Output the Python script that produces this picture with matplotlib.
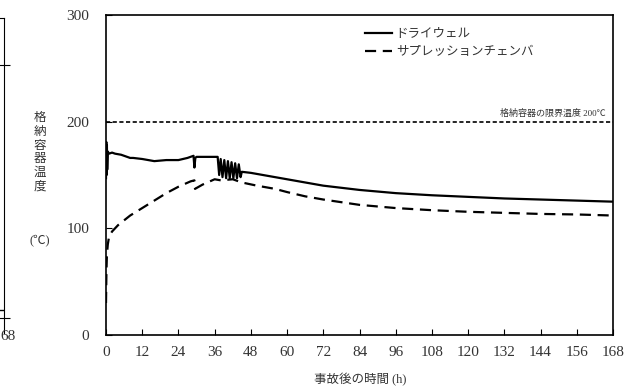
import numpy as np
import matplotlib
matplotlib.use('Agg')
import matplotlib.pyplot as plt

plt.rcParams['font.family'] = ['Liberation Serif', 'Noto Sans CJK JP']

# ドライウェル温度 (時間[h], 温度[℃])
t_dw = [0, 0.1, 0.2, 0.3, 0.4, 0.6, 1, 2, 3, 5, 7, 8, 9, 12, 16, 20, 24, 27, 29,
        29.3, 29.6, 30, 33, 37, 37.5, 38, 38.6, 39.2, 39.8, 40.4, 41, 41.6, 42.2,
        42.8, 43.4, 44, 44.6, 45, 48, 52, 56, 60, 64, 68, 72, 84, 96, 108, 120,
        132, 144, 156, 168]
T_dw = [147, 181, 150, 178, 155, 172, 170, 171, 170, 169, 167, 166, 166, 165, 163,
        164, 164, 166, 168, 157, 166, 167, 167, 167, 150, 165, 148, 164, 147, 163,
        147, 162, 147, 161, 147, 160, 148, 153, 152, 150, 148, 146, 144, 142, 140,
        136, 133, 131, 129.5, 128, 127, 126, 125]

# サプレッションチェンバ温度
t_sc = [0, 0.15, 0.3, 0.6, 1, 2, 4, 8, 12, 16, 20, 24, 28, 29.3, 29.5, 32, 36, 38,
        42, 45, 50, 56, 60, 66, 72, 84, 96, 108, 120, 132, 144, 156, 168]
T_sc = [30, 60, 75, 85, 92, 97, 103, 112, 119, 126, 133, 139, 144, 145, 137, 141,
        146, 145, 146, 143, 140, 137, 134, 130, 127, 122, 119, 117, 115.5, 114.5,
        113.5, 113, 112]

limit_T = 200
xticks = list(range(0, 169, 12))
yticks = [0, 100, 200, 300]

fig = plt.figure(figsize=(6.3, 3.87), dpi=100)

# 左隣の図の切れ端
ax0 = fig.add_axes([-0.6, 1 - 333 / 387, 0.6 + 4 / 630, (333 - 18) / 387])
for s in ['left', 'bottom']:
    ax0.spines[s].set_visible(False)
ax0.set_xticks([])
ax0.yaxis.tick_right()
ax0.set_ylim(0, 300)
ax0.set_yticks([300 * (333 - 65) / 315, 300 * (333 - 318) / 315])
ax0.tick_params(axis='y', direction='inout', length=8, labelright=False)
ax0.axhline(300 * (333 - 310) / 315, color='k', lw=1)
fig.text(0.0, 1 - 336 / 387, '68', ha='left', va='center', fontsize=11, color='#333')

ax = fig.add_axes([106 / 630, 1 - 335 / 387, (613 - 106) / 630, (335 - 15) / 387])
ax.plot(t_dw, T_dw, color='k', lw=1.6, label='ドライウェル')
ax.plot(t_sc, T_sc, color='k', lw=1.6, ls=(0, (5, 3)), label='サプレッションチェンバ')
ax.axhline(limit_T, color='k', lw=1.2, ls=(0, (2.5, 1.5)))
ax.text(165.5, limit_T + 4, '格納容器の限界温度 200℃', fontsize=6.5, ha='right', va='bottom', color='#333')

ax.set_xlim(0, 168)
ax.set_ylim(0, 300)
ax.set_xticks(xticks)
ax.set_yticks(yticks)
ax.tick_params(direction='in', length=4, labelsize=11, labelcolor='#333', pad=8)
ax.tick_params(axis='y', pad=12)
for s in ax.spines.values():
    s.set_linewidth(1.2)

leg = ax.legend(loc='upper left', bbox_to_anchor=(0.5, 0.975), frameon=False,
                fontsize=9, handlelength=2.2, handletextpad=0.3, labelspacing=0.5,
                borderaxespad=0)
for t in leg.get_texts():
    t.set_color('#333')

fig.text(40 / 630, 1 - 112 / 387, '格\n納\n容\n器\n温\n度', ha='center', va='top',
         fontsize=9, linespacing=1.2, color='#333')
fig.text(40 / 630, 1 - 240 / 387, '(℃)', ha='center', va='center', fontsize=9, color='#333')
fig.text(360 / 630, 1 - 373 / 387, '事故後の時間 (h)', ha='center', va='top', fontsize=9, color='#333')

fig.savefig('out.png', dpi=100)
